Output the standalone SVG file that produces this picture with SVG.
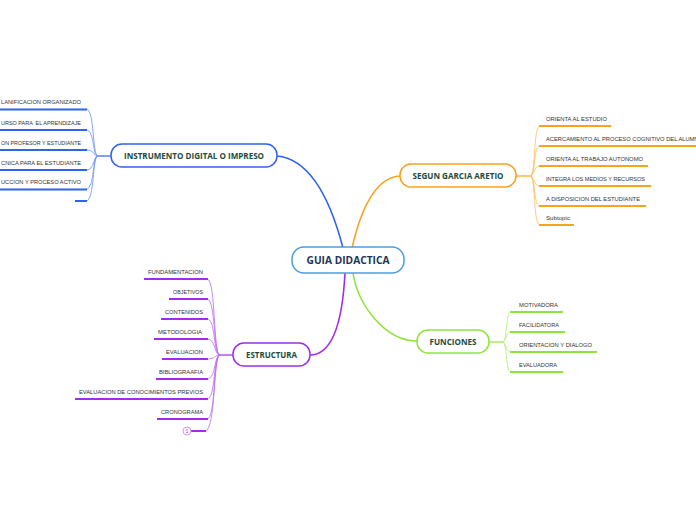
<svg xmlns="http://www.w3.org/2000/svg" width="696" height="520" viewBox="0 0 696 520">
<style>
.node{fill:#fff;stroke-width:1.5}
.nt{font-family:"Open Sans","Liberation Sans",sans-serif;font-weight:bold;fill:#1a4a3c;text-anchor:middle}
.st{font-family:"Liberation Sans",Arial,sans-serif;font-size:5.8px;fill:#333}
.sl{fill:none;stroke-width:2}
.sc{fill:none;stroke-width:0.8;opacity:0.7}
.mc{fill:none;stroke-width:1.6}
.blue{stroke:#2f62f0}
.orange{stroke:#f9a21b}
.green{stroke:#8ee53a}
.purple{stroke:#a02cf2}
</style>
<rect width="696" height="520" fill="#fff"/>
<g id="connectors">
  <path class="mc blue" d="M343,248 Q320,160 277,156"/>
  <path class="mc orange" d="M352,248 Q368,178 400,176"/>
  <path class="mc purple" d="M345,273 C342,330 330,355 310,355"/>
  <path class="mc green" d="M353,273 C358,305 385,341 417,341"/>
  <path class="blue" stroke-width="1.2" d="M111,156 L98,156"/>
  <g class="sc blue">
    <path d="M98,156 C92,156 95,109 86,109"/>
    <path d="M98,156 C92,156 95,130 86,130"/>
    <path d="M98,156 C93,156 95,150 86,150"/>
    <path d="M98,156 C93,156 95,170 86,170"/>
    <path d="M98,156 C92,156 95,189 86,189"/>
    <path d="M98,156 C92,156 95,201 86,201"/>
  </g>
  <path class="orange" stroke-width="1.2" d="M516,176 L530,176"/>
  <g class="sc orange">
    <path d="M530,176 C536,176 533,126 540,126"/>
    <path d="M530,176 C536,176 533,146 540,146"/>
    <path d="M530,176 C535,176 533,166 540,166"/>
    <path d="M530,176 C535,176 533,186 540,186"/>
    <path d="M530,176 C536,176 533,206 540,206"/>
    <path d="M530,176 C536,176 533,225 540,225"/>
  </g>
  <path class="green" stroke-width="1.2" d="M489,342 L502,342"/>
  <g class="sc green">
    <path d="M502,342 C508,342 505,312 511,312"/>
    <path d="M502,342 C507,342 505,332 511,332"/>
    <path d="M502,342 C507,342 505,352 511,352"/>
    <path d="M502,342 C508,342 505,372 511,372"/>
  </g>
  <path class="purple" stroke-width="1.2" d="M233,355 L220,355"/>
  <g class="sc purple">
    <path d="M220,355 C213,355 216,279 207,279"/>
    <path d="M220,355 C213,355 216,299 207,299"/>
    <path d="M220,355 C213,355 216,319 207,319"/>
    <path d="M220,355 C214,355 216,339 207,339"/>
    <path d="M220,355 C214,355 216,359 207,359"/>
    <path d="M220,355 C214,355 216,379 207,379"/>
    <path d="M220,355 C213,355 216,399 207,399"/>
    <path d="M220,355 C213,355 216,419 207,419"/>
    <path d="M220,355 C213,355 216,431 205,431"/>
  </g>
</g>
<g id="center">
  <rect class="node" x="292" y="247" width="112" height="26" rx="12" stroke="#4d9de0"/>
  <text class="nt" x="348" y="264" font-size="10.5" style="fill:#1e3454" textLength="83" lengthAdjust="spacingAndGlyphs">GUIA DIDACTICA</text>
</g>
<g id="instrumento">
  <rect class="node" x="111" y="144" width="166" height="23" rx="11" stroke="#2f62f0"/>
  <text class="nt" x="194" y="159" font-size="8" textLength="140" lengthAdjust="spacingAndGlyphs">INSTRUMENTO DIGITAL O IMPRESO</text>
</g>
<g id="instrumento-subs">
  <g class="sl blue">
    <path d="M0,109.5 H87"/><path d="M0,130 H87"/><path d="M0,150 H87"/><path d="M0,170 H87"/><path d="M0,189.5 H87"/><path d="M75,201 H87"/>
  </g>
  <g class="st" text-anchor="end">
    <text x="81" y="104" textLength="80" lengthAdjust="spacingAndGlyphs">LANIFICACION ORGANIZADO</text>
    <text x="81" y="124.5" textLength="80" lengthAdjust="spacingAndGlyphs" xml:space="preserve">URSO PARA  EL APRENDIZAJE</text>
    <text x="81" y="144.5" textLength="80" lengthAdjust="spacingAndGlyphs">ON PROFESOR Y ESTUDIANTE</text>
    <text x="81" y="164.5" textLength="80" lengthAdjust="spacingAndGlyphs">CNICA PARA EL ESTUDIANTE</text>
    <text x="81" y="184" textLength="80" lengthAdjust="spacingAndGlyphs">UCCION Y PROCESO ACTIVO</text>
  </g>
</g>
<g id="segun">
  <rect class="node" x="400" y="164" width="116" height="23" rx="11" stroke="#f9a21b"/>
  <text class="nt" x="458" y="178.5" font-size="8" textLength="91" lengthAdjust="spacingAndGlyphs">SEGUN GARCIA ARETIO</text>
</g>
<g id="segun-subs">
  <g class="sl orange">
    <path d="M539,126 H611"/><path d="M539,146 H700"/><path d="M539,166 H648"/><path d="M539,186 H651"/><path d="M539,206 H646"/><path d="M539,225 H574"/>
  </g>
  <g class="st">
    <text x="546" y="120.5" textLength="61" lengthAdjust="spacingAndGlyphs">ORIENTA AL ESTUDIO</text>
    <text x="546" y="140.5" textLength="157" lengthAdjust="spacingAndGlyphs">ACERCAMIENTO AL PROCESO COGNITIVO DEL ALUMNO</text>
    <text x="546" y="160.5" textLength="97" lengthAdjust="spacingAndGlyphs">ORIENTA AL TRABAJO AUTONOMO</text>
    <text x="546" y="180.5" textLength="99" lengthAdjust="spacingAndGlyphs">INTEGRA LOS MEDIOS Y RECURSOS</text>
    <text x="546" y="200.5" textLength="94" lengthAdjust="spacingAndGlyphs">A DISPOSICION DEL ESTUDIANTE</text>
    <text x="546" y="220" textLength="24" lengthAdjust="spacingAndGlyphs">Subtopic</text>
  </g>
</g>
<g id="funciones">
  <rect class="node" x="417" y="330" width="72" height="23" rx="11" stroke="#8ee53a"/>
  <text class="nt" x="453" y="345" font-size="8" textLength="47" lengthAdjust="spacingAndGlyphs">FUNCIONES</text>
</g>
<g id="funciones-subs">
  <g class="sl green">
    <path d="M510,312 H563"/><path d="M510,332 H565"/><path d="M510,352 H597"/><path d="M510,372 H563"/>
  </g>
  <g class="st">
    <text x="519" y="306.5" textLength="39" lengthAdjust="spacingAndGlyphs">MOTIVADORA</text>
    <text x="519" y="326.5" textLength="40" lengthAdjust="spacingAndGlyphs">FACILIDATORA</text>
    <text x="519" y="346.5" textLength="73" lengthAdjust="spacingAndGlyphs">ORIENTACION Y DIALOGO</text>
    <text x="519" y="366.5" textLength="38" lengthAdjust="spacingAndGlyphs">EVALUADORA</text>
  </g>
</g>
<g id="estructura">
  <rect class="node" x="233" y="343" width="77" height="23" rx="11" stroke="#a02cf2"/>
  <text class="nt" x="271.5" y="358" font-size="8" textLength="51" lengthAdjust="spacingAndGlyphs">ESTRUCTURA</text>
</g>
<g id="estructura-subs">
  <g class="sl purple">
    <path d="M144,279 H208"/><path d="M169,299 H208"/><path d="M161,319 H208"/><path d="M154,339 H208"/><path d="M162,359 H208"/><path d="M156,379 H208"/><path d="M75,399 H208"/><path d="M157,419 H208"/><path d="M191,431 H206"/>
  </g>
  <g class="st" text-anchor="end">
    <text x="203" y="273.5" textLength="55" lengthAdjust="spacingAndGlyphs">FUNDAMENTACION</text>
    <text x="203" y="293.5" textLength="30" lengthAdjust="spacingAndGlyphs">OBJETIVOS</text>
    <text x="203" y="313.5" textLength="38" lengthAdjust="spacingAndGlyphs">CONTENIDOS</text>
    <text x="202" y="333.5" textLength="44" lengthAdjust="spacingAndGlyphs">METODOLOGIA</text>
    <text x="203" y="353.5" textLength="37" lengthAdjust="spacingAndGlyphs">EVALUACION</text>
    <text x="203" y="373.5" textLength="44" lengthAdjust="spacingAndGlyphs">BIBLIOGRAAFIA</text>
    <text x="203" y="393.5" textLength="124" lengthAdjust="spacingAndGlyphs">EVALUACION DE CONOCIMIENTOS PREVIOS</text>
    <text x="203" y="413.5" textLength="42" lengthAdjust="spacingAndGlyphs">CRONOGRAMA</text>
  </g>
  <circle cx="187" cy="431" r="4" fill="#fff" stroke="#c77af5" stroke-width="0.8"/>
  <text x="187" y="433" font-family="Liberation Sans, sans-serif" font-size="5" fill="#a02cf2" text-anchor="middle">1</text>
</g>
</svg>
